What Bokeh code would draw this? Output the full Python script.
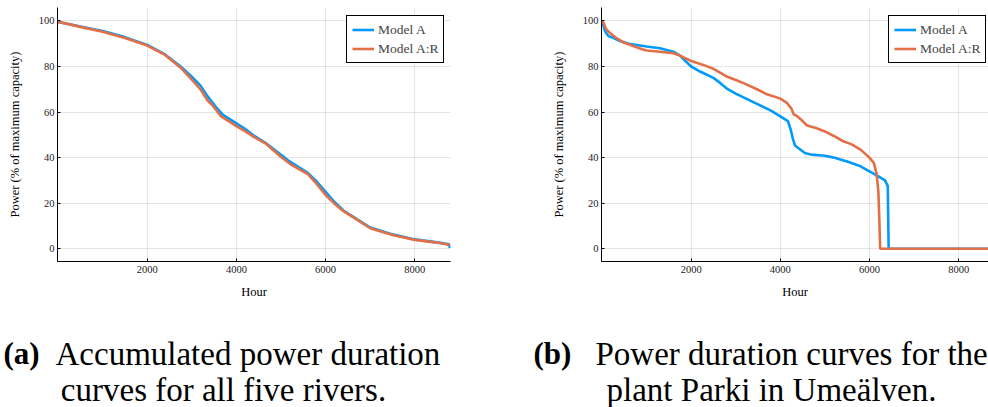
from bokeh.plotting import figure
from bokeh.layouts import column, row
from bokeh.models import Range1d, Legend, LegendItem, FixedTicker, ColumnDataSource
from bokeh.core.properties import value
from bokeh.embed import file_html
from bokeh.resources import INLINE

# ---------------- data ----------------
# (a) accumulated power duration curves, all five rivers
a_hours_A = [0, 500, 1000, 1500, 2000, 2400, 2750, 3000, 3200, 3350, 3450, 3550, 3700,
             4000, 4200, 4400, 4650, 5000, 5200, 5600, 5800, 6000, 6200, 6400, 6700,
             7000, 7500, 8000, 8500, 8770, 8784]
a_model_A = [99.6, 97.6, 95.6, 92.9, 89.5, 85.3, 80.0, 75.5, 71.5, 67.0, 64.5, 62.0, 58.8,
             55.0, 52.5, 49.5, 46.5, 41.2, 38.2, 33.3, 29.5, 25.0, 20.5, 16.8, 13.0,
             9.3, 6.3, 4.1, 2.8, 2.0, 0.3]
a_hours_AR = [0, 500, 1000, 1500, 2000, 2400, 2750, 3000, 3200, 3350, 3450, 3550, 3650,
              4000, 4200, 4400, 4650, 5000, 5200, 5600, 5800, 6000, 6200, 6400, 6700,
              7000, 7500, 8000, 8500, 8784]
a_model_AR = [99.6, 97.4, 95.3, 92.5, 89.2, 85.1, 79.5, 74.2, 69.8, 65.2, 63.2, 60.8, 58.2,
              53.8, 51.5, 49.0, 46.3, 40.3, 37.3, 32.8, 28.5, 23.6, 19.8, 16.5, 12.8,
              9.0, 6.0, 3.9, 2.7, 1.6]

# (b) power duration curves, plant Parki in Umealven
b_hours_A = [0, 30, 60, 100, 150, 250, 400, 600, 1000, 1300, 1600, 1750, 1850, 2000,
             2200, 2500, 2650, 2800, 3000, 3500, 3800, 4000, 4170, 4230, 4280, 4330,
             4400, 4550, 4700, 5000, 5200, 5500, 5800, 6000, 6200, 6350, 6410, 6420,
             6430, 8784]
b_model_A = [100.0, 98.0, 96.0, 94.5, 93.3, 92.6, 91.2, 90.0, 88.8, 88.0, 86.5, 84.8, 82.8,
             80.0, 77.8, 75.0, 72.8, 70.3, 68.1, 63.4, 60.5, 58.1, 56.0, 52.5, 48.5, 45.3,
             44.2, 42.0, 41.3, 40.8, 40.0, 38.3, 36.2, 34.0, 31.8, 30.0, 27.5, 14.0,
             0.0, 0.0]
b_hours_AR = [0, 40, 90, 160, 300, 500, 700, 900, 1000, 1300, 1600, 1700, 2000, 2300,
              2500, 2650, 2800, 3000, 3200, 3500, 3700, 4000, 4150, 4250, 4300, 4370,
              4450, 4600, 4800, 5000, 5200, 5400, 5600, 5800, 6000, 6100, 6160, 6200,
              6220, 6240, 8784]
b_model_AR = [100.0, 99.0, 96.5, 95.0, 92.8, 90.4, 89.0, 87.6, 87.0, 86.5, 85.8, 85.2, 82.4,
              80.5, 79.0, 77.3, 75.6, 74.1, 72.5, 69.8, 67.8, 65.9, 64.0, 61.5, 59.0, 58.3,
              57.0, 54.1, 53.0, 51.5, 49.5, 47.3, 45.8, 43.5, 40.0, 37.6, 33.0, 25.0,
              13.0, 0.0, 0.0]

x_ticks = [2000, 4000, 6000, 8000]
y_ticks = [0, 20, 40, 60, 80, 100]
series_names = ["Model A", "Model A:R"]
series_colors = ["#009AFA", "#E26F46"]

captions = {
    "a_label": "(a)",
    "a_line1": "Accumulated power duration",
    "a_line2": "curves for all five rivers.",
    "b_label": "(b)",
    "b_line1": "Power duration curves for the",
    "b_line2": "plant Parki in Umeälven.",
}

SERIF = "Liberation Serif"
PLOT_H = 310
CAP_H = 407 - PLOT_H


def make_plot(width, border_left, border_right, x_end, xs, ys, legend_x):
    p = figure(width=width, height=PLOT_H, output_backend="svg", toolbar_location=None,
               x_range=Range1d(-11, x_end), y_range=Range1d(-5.6, 105.9),
               min_border_left=border_left, min_border_right=border_right,
               min_border_top=7, min_border_bottom=PLOT_H - 261,
               title_location=None)
    p.outline_line_color = None
    p.background_fill_color = "white"
    p.border_fill_color = "white"
    renderers = []
    for x, y, c in zip(xs, ys, series_colors):
        r = p.line(x=x, y=y, line_color=c, line_width=2.6)
        renderers.append(r)
    p.xaxis.ticker = FixedTicker(ticks=x_ticks)
    p.yaxis.ticker = FixedTicker(ticks=y_ticks)
    for ax in (p.xaxis[0], p.yaxis[0]):
        ax.major_tick_in = 3
        ax.major_tick_out = 0
        ax.minor_tick_in = 0
        ax.minor_tick_out = 0
        ax.axis_line_color = "black"
        ax.major_tick_line_color = "black"
        ax.major_label_text_font = SERIF
        ax.major_label_text_font_size = "10.5px"
        ax.major_label_text_color = "#222222"
        ax.axis_label_text_font = SERIF
        ax.axis_label_text_font_size = "12.5px"
        ax.axis_label_text_font_style = "normal"
        ax.axis_label_text_color = "black"
    p.xaxis.axis_label = "Hour"
    p.yaxis.axis_label = "Power (% of maximum capacity)"
    p.xaxis.major_label_standoff = 4
    p.yaxis.major_label_standoff = 3
    p.xaxis.axis_label_standoff = 9
    p.yaxis.axis_label_standoff = 14
    p.xgrid.grid_line_color = "black"
    p.ygrid.grid_line_color = "black"
    p.xgrid.grid_line_alpha = 0.1
    p.ygrid.grid_line_alpha = 0.1

    legend = Legend(items=[LegendItem(label=n, renderers=[r]) for n, r in zip(series_names, renderers)],
                    location=(legend_x, 198))
    legend.border_line_color = "black"
    legend.border_line_width = 1
    legend.border_line_alpha = 1
    legend.background_fill_alpha = 1
    legend.label_text_font = SERIF
    legend.label_text_font_size = "13.5px"
    legend.glyph_width = 22
    legend.glyph_height = 17
    legend.label_height = 17
    legend.label_standoff = 4
    legend.padding = 5
    legend.spacing = 2
    legend.margin = 0
    p.add_layout(legend, "center")
    return p


p1 = make_plot(530, 57, 80, 8800, [a_hours_A, a_hours_AR], [a_model_A, a_model_AR], 289)
p2 = make_plot(458, 71, 0, 8670, [b_hours_A, b_hours_AR], [b_model_A, b_model_AR], 287)

# caption figure: y measured upward from the bottom of the caption strip
cap = figure(width=988, height=CAP_H, output_backend="svg", toolbar_location=None,
             x_range=Range1d(0, 988), y_range=Range1d(0, CAP_H),
             x_axis_type=None, y_axis_type=None,
             min_border=0, title_location=None)
cap.grid.visible = False
cap.outline_line_color = None

L1 = 54   # baseline of first caption line, from strip bottom
L2 = 18   # baseline of second caption line

bold_src = ColumnDataSource(dict(x=[3, 533], y=[L1, L1],
                                 t=[captions["a_label"], captions["b_label"]]))
cap.text(x="x", y="y", text="t", source=bold_src, text_font=value(SERIF),
         text_font_size="31px", text_font_style="bold", text_align="left",
         text_baseline="alphabetic", text_color="black")
left_src = ColumnDataSource(dict(x=[55, 595], y=[L1, L1],
                                 t=[captions["a_line1"], captions["b_line1"]]))
cap.text(x="x", y="y", text="t", source=left_src, text_font=value(SERIF),
         text_font_size="33px", text_align="left", text_baseline="alphabetic",
         text_color="black")
center_src = ColumnDataSource(dict(x=[223, 771], y=[L2, L2],
                                   t=[captions["a_line2"], captions["b_line2"]]))
cap.text(x="x", y="y", text="t", source=center_src, text_font=value(SERIF),
         text_font_size="33px", text_align="center", text_baseline="alphabetic",
         text_color="black")

layout = column(row(p1, p2), cap)
open("out.html", "w").write(file_html(layout, INLINE))
